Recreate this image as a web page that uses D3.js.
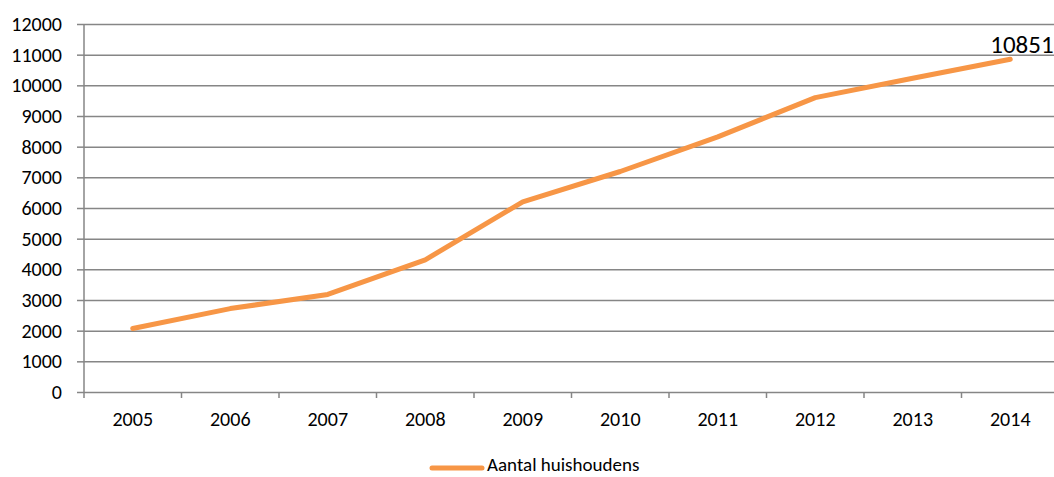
<!DOCTYPE html>
<html><head><meta charset="utf-8">
<script src="https://cdn.jsdelivr.net/npm/d3@7"></script>
<style>body{margin:0;background:#fff;}svg{display:block;}text{font-family:Carlito,Calibri,"Open Sans","Liberation Sans",sans-serif;}</style>
</head><body><svg id="c" width="1054" height="477"></svg>
<script>
const years = ["2005","2006","2007","2008","2009","2010","2011","2012","2013","2014"];
const huishoudens = [2070, 2720, 3180, 4310, 6200, 7190, 8320, 9600, 10230, 10851];
const yTicks = [0,1000,2000,3000,4000,5000,6000,7000,8000,9000,10000,11000,12000];
const seriesName = "Aantal huishoudens";

(function(){
const svg = d3.select("#c");
const mLeft = 84, mRight = 1059, mTop = 24, mBottom = 392;
const x = d3.scaleBand().domain(years).range([mLeft, mRight]);
const y = d3.scaleLinear().domain([0, 12000]).range([mBottom, mTop]);
const grid = "#868686";
const fs = 20;

// gridlines
svg.append("g").selectAll("line").data(yTicks.filter(d=>d>0)).join("line")
  .attr("x1", mLeft).attr("x2", mRight).attr("y1", d=>y(d)+0.5).attr("y2", d=>y(d)+0.5)
  .attr("stroke", grid).attr("stroke-width", 1.5);

// y axis
const ya = svg.append("g").attr("transform", `translate(${mLeft},0)`)
  .call(d3.axisLeft(y).tickValues(yTicks).tickSize(7).tickPadding(15).tickFormat(d3.format("d")));
ya.select(".domain").attr("stroke", grid).attr("stroke-width", 1.5).attr("d", `M0,${mBottom}V${mTop}`);
ya.selectAll(".tick line").attr("stroke", grid).attr("stroke-width", 1.5);
ya.selectAll(".tick text").attr("font-size", fs).attr("fill", "#000").attr("dy", "0.33em");

// x axis
const xa = svg.append("g").attr("transform", `translate(0,${mBottom})`)
  .call(d3.axisBottom(x).tickSize(0).tickPadding(19));
xa.select(".domain").attr("stroke", grid).attr("stroke-width", 1.5).attr("d", `M${mLeft},0.5H${mRight}`);
xa.selectAll(".tick text").attr("font-size", fs).attr("fill", "#000").attr("y", 34).attr("dy", 0);
svg.append("g").selectAll("line").data(d3.range(years.length+1)).join("line")
  .attr("x1", i=>mLeft + i*x.step()).attr("x2", i=>mLeft + i*x.step())
  .attr("y1", mBottom).attr("y2", mBottom+6).attr("stroke", grid).attr("stroke-width", 1.5);

// line
const line = d3.line().x((d,i)=>x(years[i])+x.bandwidth()/2).y(d=>y(d));
svg.append("path").datum(huishoudens).attr("d", line)
  .attr("fill","none").attr("stroke","#F79646").attr("stroke-width",5)
  .attr("stroke-linecap","round").attr("stroke-linejoin","round");

// data label
const last = huishoudens.length-1;
svg.append("text").attr("x", x(years[last])+x.bandwidth()/2 - 20).attr("y", y(huishoudens[last]) - 6)
  .attr("font-size", 25).attr("fill","#000").text(huishoudens[last]);

// legend
svg.append("line").attr("x1", 432).attr("x2", 482).attr("y1", 468).attr("y2", 468)
  .attr("stroke","#F79646").attr("stroke-width",5).attr("stroke-linecap","round");
svg.append("text").attr("x", 487).attr("y", 471).attr("font-size", 19).attr("fill","#000").text(seriesName);
})();
</script></body></html>
